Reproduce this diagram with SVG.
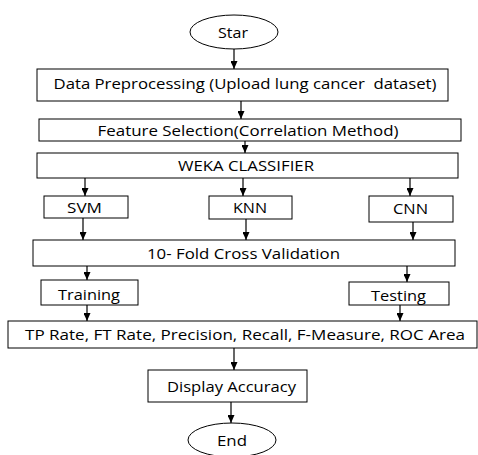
<svg xmlns="http://www.w3.org/2000/svg" width="478" height="455" viewBox="0 0 478 455">
<defs>
<marker id="ah" markerWidth="8" markerHeight="7" refX="8" refY="3.5" orient="auto" markerUnits="userSpaceOnUse">
<path d="M0,0 L8,3.5 L0,7 Z" fill="#000"/>
</marker>
<style>
.b{fill:#fff;stroke:#000;stroke-width:1}
.t{font-family:"Open Sans","Liberation Sans",sans-serif;font-size:14px;fill:#000;text-anchor:middle;dominant-baseline:central}
.c{stroke:#000;stroke-width:1.2;fill:none;marker-end:url(#ah)}
</style>
</defs>
<rect width="478" height="455" fill="#fff"/>
<g id="connectors">
<line class="c" x1="234" y1="49" x2="234" y2="69"/>
<line class="c" x1="241" y1="101" x2="241" y2="119"/>
<line class="c" x1="245" y1="141" x2="245" y2="153"/>
<line class="c" x1="85" y1="178" x2="85" y2="196"/>
<line class="c" x1="243" y1="178" x2="243" y2="196"/>
<line class="c" x1="410" y1="178" x2="410" y2="196"/>
<line class="c" x1="83" y1="218" x2="83" y2="240"/>
<line class="c" x1="246" y1="219" x2="246" y2="240"/>
<line class="c" x1="413" y1="222" x2="413" y2="240"/>
<line class="c" x1="87" y1="266" x2="87" y2="280"/>
<line class="c" x1="407" y1="266" x2="407" y2="282"/>
<line class="c" x1="87" y1="305" x2="87" y2="321"/>
<line class="c" x1="400" y1="305" x2="400" y2="321"/>
<line class="c" x1="234" y1="348" x2="234" y2="370"/>
<line class="c" x1="231" y1="402" x2="231" y2="423"/>
</g>
<g id="start"><ellipse class="b" cx="234" cy="32" rx="44" ry="17"/><text class="t" x="233" y="32" textLength="30" lengthAdjust="spacingAndGlyphs">Star</text></g>
<g id="preprocess"><rect class="b" x="37" y="69" width="411" height="32"/><text class="t" x="245" y="83" textLength="383" lengthAdjust="spacingAndGlyphs">Data Preprocessing (Upload lung cancer&#160; dataset)</text></g>
<g id="feature"><rect class="b" x="39" y="119" width="422" height="22"/><text class="t" x="248" y="130" textLength="301" lengthAdjust="spacingAndGlyphs">Feature Selection(Correlation Method)</text></g>
<g id="weka"><rect class="b" x="37" y="153" width="421" height="25"/><text class="t" x="246" y="165.5" textLength="136" lengthAdjust="spacingAndGlyphs">WEKA CLASSIFIER</text></g>
<g id="svm"><rect class="b" x="44" y="196" width="84" height="22"/><text class="t" x="84.5" y="207" textLength="35" lengthAdjust="spacingAndGlyphs">SVM</text></g>
<g id="knn"><rect class="b" x="209" y="196" width="83" height="23"/><text class="t" x="250" y="207.5" textLength="34" lengthAdjust="spacingAndGlyphs">KNN</text></g>
<g id="cnn"><rect class="b" x="369" y="196" width="84" height="26"/><text class="t" x="410.5" y="208" textLength="35" lengthAdjust="spacingAndGlyphs">CNN</text></g>
<g id="crossval"><rect class="b" x="33" y="240" width="422" height="26"/><text class="t" x="243.5" y="253" textLength="193" lengthAdjust="spacingAndGlyphs">10- Fold Cross Validation</text></g>
<g id="training"><rect class="b" x="41" y="280" width="97" height="25"/><text class="t" x="89" y="294" textLength="62" lengthAdjust="spacingAndGlyphs">Training</text></g>
<g id="testing"><rect class="b" x="349" y="282" width="100" height="23"/><text class="t" x="398.5" y="295" textLength="55" lengthAdjust="spacingAndGlyphs">Testing</text></g>
<g id="metrics"><rect class="b" x="8" y="321" width="469" height="27"/><text class="t" x="245" y="334" textLength="440" lengthAdjust="spacingAndGlyphs">TP Rate, FT Rate, Precision, Recall, F-Measure, ROC Area</text></g>
<g id="display"><rect class="b" x="148" y="370" width="159" height="32"/><text class="t" x="231.5" y="386" textLength="129" lengthAdjust="spacingAndGlyphs">Display Accuracy</text></g>
<g id="end"><ellipse class="b" cx="232" cy="440" rx="44" ry="17"/><text class="t" x="232" y="440" textLength="30" lengthAdjust="spacingAndGlyphs">End</text></g>
</svg>
